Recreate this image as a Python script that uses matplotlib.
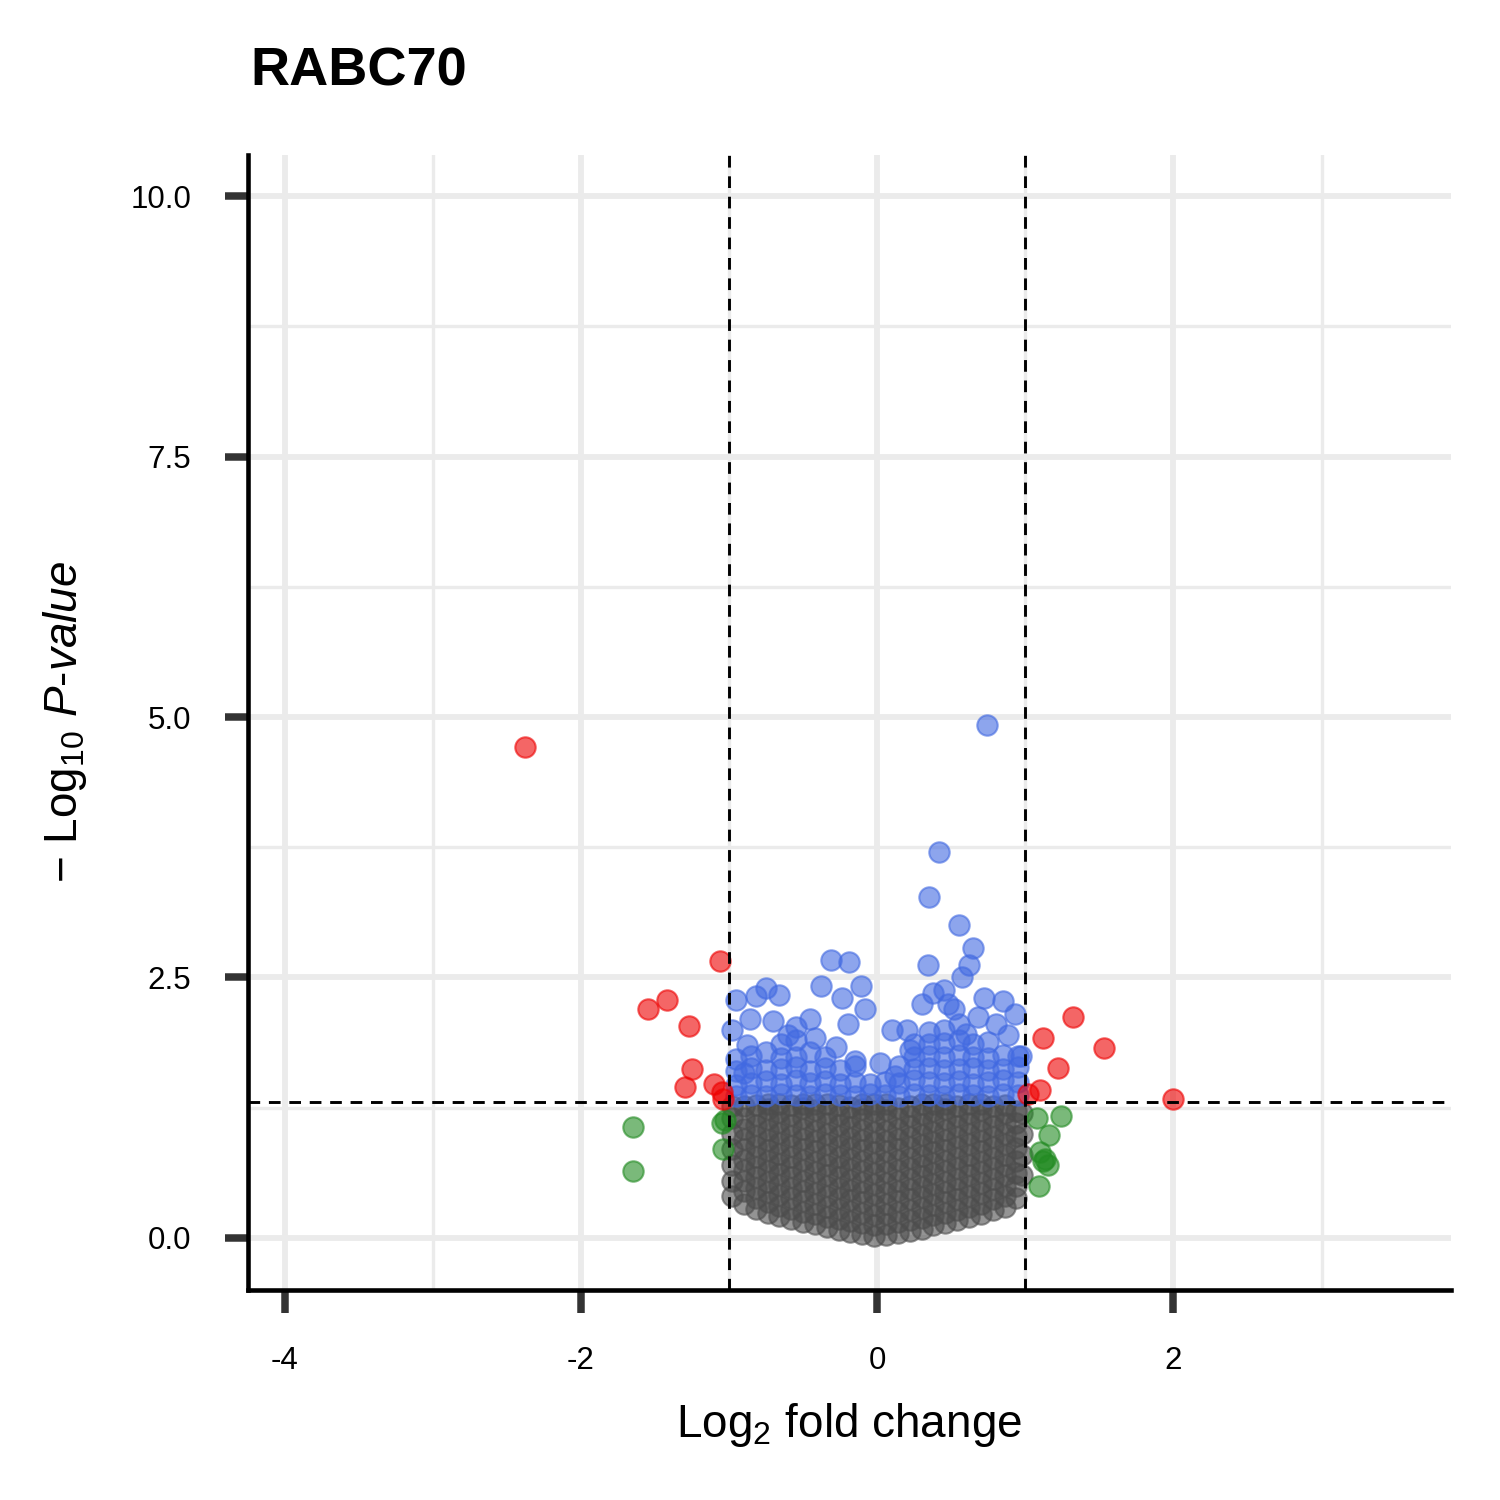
import numpy as np
import matplotlib
matplotlib.use("Agg")
import matplotlib.pyplot as plt

plt.rcParams['font.family'] = ['Liberation Sans', 'DejaVu Sans']
plt.rcParams['mathtext.fontset'] = 'custom'
plt.rcParams['mathtext.rm'] = 'Liberation Sans'
plt.rcParams['mathtext.it'] = 'Liberation Sans:italic'

# significant in both (red)
red_x = [-2.38, -1.55, -1.42, -1.27, -1.25, -1.30, -1.10, -1.06, -1.05, -1.04, 1.02, 1.10, 1.12, 1.22, 1.32, 1.53, 2.00]
red_y = [4.71, 2.20, 2.28, 2.03, 1.62, 1.45, 1.48, 2.66, 1.40, 1.33, 1.38, 1.42, 1.92, 1.63, 2.12, 1.82, 1.33]

# fold change only (green)
green_x = [-1.65, -1.65, -1.05, -1.03, -1.04, 1.08, 1.10, 1.12, 1.13, 1.15, 1.16, 1.24, 1.09]
green_y = [1.06, 0.64, 1.10, 1.13, 0.85, 1.15, 0.82, 0.74, 0.76, 0.70, 0.99, 1.17, 0.50]

# p-value only (blue): isolated points
blue_x = [0.74, 0.42, 0.35, 0.55, 0.65, 0.62, 0.34, -0.31, -0.19, -0.11, -0.24, -0.38, -0.66, -0.75,
          -0.82, -0.95, -0.86, -0.98, 0.72, 0.85, 0.93, 0.97, 0.45, 0.30, 0.10, -0.08, 0.57, 0.48,
          -0.55, -0.45, -0.20, 0.20, 0.80, 0.68, -0.70, 0.38, 0.52, 0.88, -0.88, -0.60,
          -0.15, 0.02, 0.22, -0.42, 0.60, -0.90, 0.12, -0.28]
blue_y = [4.92, 3.70, 3.27, 3.00, 2.78, 2.62, 2.62, 2.67, 2.65, 2.42, 2.30, 2.42, 2.33, 2.40,
          2.32, 2.28, 2.10, 2.00, 2.30, 2.27, 2.15, 1.75, 2.38, 2.25, 2.00, 2.20, 2.50, 2.25,
          2.02, 2.10, 2.05, 2.00, 2.05, 2.12, 2.08, 2.35, 2.20, 1.95, 1.85, 1.95,
          1.70, 1.68, 1.80, 1.92, 1.96, 1.58, 1.55, 1.83]
# p-value only (blue): dense band, by column
blue_cols = {
    -0.95: [1.36, 1.47, 1.60, 1.72], -0.85: [1.37, 1.49, 1.63, 1.75], -0.75: [1.36, 1.51, 1.61, 1.78],
    -0.65: [1.38, 1.48, 1.62, 1.73, 1.86], -0.55: [1.37, 1.52, 1.64, 1.74, 1.90], -0.45: [1.36, 1.49, 1.60, 1.78],
    -0.35: [1.38, 1.51, 1.63, 1.74], -0.25: [1.37, 1.48, 1.61], -0.15: [1.36, 1.50, 1.65], -0.05: [1.38, 1.48],
    0.05: [1.37, 1.50], 0.15: [1.36, 1.49, 1.65], 0.25: [1.38, 1.52, 1.62, 1.74, 1.86],
    0.35: [1.37, 1.50, 1.63, 1.75, 1.86, 1.98], 0.45: [1.36, 1.49, 1.61, 1.74, 1.87, 2.00],
    0.55: [1.38, 1.51, 1.62, 1.76, 1.90, 2.05], 0.65: [1.37, 1.48, 1.63, 1.74, 1.86],
    0.75: [1.36, 1.50, 1.61, 1.73, 1.88], 0.85: [1.38, 1.52, 1.62, 1.76], 0.95: [1.37, 1.50, 1.64, 1.75],
}
for cx, ys in blue_cols.items():
    blue_x += [cx] * len(ys)
    blue_y += ys

# not significant (grey): dense cloud, by column
grey_cols = {
    -0.98: [0.40, 0.55, 0.70, 0.85, 1.00, 1.15, 1.27],
    -0.90: [0.33, 0.45, 0.55, 0.65, 0.75, 0.85, 0.95, 1.05, 1.15, 1.27],
    -0.82: [0.28, 0.38, 0.48, 0.58, 0.68, 0.78, 0.88, 0.98, 1.08, 1.18, 1.28],
    -0.74: [0.24, 0.34, 0.44, 0.54, 0.64, 0.74, 0.84, 0.94, 1.04, 1.14, 1.24, 1.29],
    -0.66: [0.21, 0.31, 0.41, 0.51, 0.61, 0.71, 0.81, 0.91, 1.01, 1.11, 1.21, 1.29],
    -0.58: [0.18, 0.28, 0.38, 0.48, 0.58, 0.68, 0.78, 0.88, 0.98, 1.08, 1.18, 1.28],
    -0.50: [0.15, 0.25, 0.35, 0.45, 0.55, 0.65, 0.75, 0.85, 0.95, 1.05, 1.15, 1.25, 1.29],
    -0.42: [0.13, 0.23, 0.33, 0.43, 0.53, 0.63, 0.73, 0.83, 0.93, 1.03, 1.13, 1.23, 1.29],
    -0.34: [0.10, 0.20, 0.30, 0.40, 0.50, 0.60, 0.70, 0.80, 0.90, 1.00, 1.10, 1.20, 1.29],
    -0.26: [0.08, 0.18, 0.28, 0.38, 0.48, 0.58, 0.68, 0.78, 0.88, 0.98, 1.08, 1.18, 1.28],
    -0.18: [0.06, 0.16, 0.26, 0.36, 0.46, 0.56, 0.66, 0.76, 0.86, 0.96, 1.06, 1.16, 1.26],
    -0.10: [0.04, 0.14, 0.24, 0.34, 0.44, 0.54, 0.64, 0.74, 0.84, 0.94, 1.04, 1.14, 1.24, 1.29],
    -0.02: [0.02, 0.12, 0.22, 0.32, 0.42, 0.52, 0.62, 0.72, 0.82, 0.92, 1.02, 1.12, 1.22, 1.29],
    0.06: [0.03, 0.13, 0.23, 0.33, 0.43, 0.53, 0.63, 0.73, 0.83, 0.93, 1.03, 1.13, 1.23, 1.29],
    0.14: [0.05, 0.15, 0.25, 0.35, 0.45, 0.55, 0.65, 0.75, 0.85, 0.95, 1.05, 1.15, 1.25],
    0.22: [0.07, 0.17, 0.27, 0.37, 0.47, 0.57, 0.67, 0.77, 0.87, 0.97, 1.07, 1.17, 1.27],
    0.30: [0.09, 0.19, 0.29, 0.39, 0.49, 0.59, 0.69, 0.79, 0.89, 0.99, 1.09, 1.19, 1.29],
    0.38: [0.12, 0.22, 0.32, 0.42, 0.52, 0.62, 0.72, 0.82, 0.92, 1.02, 1.12, 1.22, 1.29],
    0.46: [0.14, 0.24, 0.34, 0.44, 0.54, 0.64, 0.74, 0.84, 0.94, 1.04, 1.14, 1.24, 1.29],
    0.54: [0.17, 0.27, 0.37, 0.47, 0.57, 0.67, 0.77, 0.87, 0.97, 1.07, 1.17, 1.27],
    0.62: [0.20, 0.30, 0.40, 0.50, 0.60, 0.70, 0.80, 0.90, 1.00, 1.10, 1.20, 1.29],
    0.70: [0.23, 0.33, 0.43, 0.53, 0.63, 0.73, 0.83, 0.93, 1.03, 1.13, 1.23, 1.29],
    0.78: [0.27, 0.37, 0.47, 0.57, 0.67, 0.77, 0.87, 0.97, 1.07, 1.17, 1.27],
    0.86: [0.30, 0.40, 0.50, 0.60, 0.70, 0.80, 0.90, 1.00, 1.10, 1.20, 1.28],
    0.94: [0.38, 0.50, 0.62, 0.74, 0.86, 0.98, 1.10, 1.22],
    0.98: [0.60, 0.80, 1.00, 1.20],
}
grey_x, grey_y = [], []
for cx, ys in grey_cols.items():
    grey_x += [cx] * len(ys)
    grey_y += ys

fc_cut = 1.0
p_cut = 1.3

fig = plt.figure(figsize=(5, 5), dpi=300)
ax = fig.add_axes([0.165, 0.14, 0.802, 0.757])

kw = dict(s=24, alpha=0.6, linewidths=0.5, zorder=3)
ax.scatter(grey_x, grey_y, color='#4d4d4d', edgecolors='#4d4d4d', **kw)
ax.scatter(green_x, green_y, color='forestgreen', edgecolors='forestgreen', **kw)
ax.scatter(blue_x, blue_y, color='royalblue', edgecolors='royalblue', **kw)
ax.scatter(red_x, red_y, color='#ee0000', edgecolors='#ee0000', **kw)

ax.axvline(-fc_cut, color='black', ls='--', lw=0.7, dashes=(4, 3), zorder=4)
ax.axvline(fc_cut, color='black', ls='--', lw=0.7, dashes=(4, 3), zorder=4)
ax.axhline(p_cut, color='black', ls='--', lw=0.7, dashes=(4, 3), zorder=4)

ax.set_xlim(-4.25, 3.87)
ax.set_ylim(-0.5, 10.4)
ax.set_xticks([-4, -2, 0, 2])
ax.set_xticklabels(['-4', '-2', '0', '2'])
ax.set_yticks([0, 2.5, 5, 7.5, 10])
ax.set_yticklabels(['0.0', '2.5', '5.0', '7.5', '10.0'])
ax.set_xticks([-3, -1, 1, 3], minor=True)
ax.set_yticks([1.25, 3.75, 6.25, 8.75], minor=True)
ax.grid(which='major', color='#ebebeb', lw=1.4, zorder=0)
ax.grid(which='minor', color='#ebebeb', lw=0.8, zorder=0)
ax.set_axisbelow(True)
ax.tick_params(which='major', length=5.5, width=1.8, color='#333333', labelsize=7.5, pad=8)
ax.tick_params(which='minor', length=0)
for s in ['top', 'right']:
    ax.spines[s].set_visible(False)
for s in ['left', 'bottom']:
    ax.spines[s].set_linewidth(1.1)

ax.set_xlabel(r'Log$_{2}$ fold change', fontsize=11, labelpad=6)
ax.set_ylabel(r'$-$ Log$_{10}$ $\it{P}$-$\it{value}$', fontsize=11, labelpad=10)
fig.text(0.167, 0.952, 'RABC70', fontsize=13, fontweight='bold', va='center')

fig.savefig('out.png', dpi=300)
